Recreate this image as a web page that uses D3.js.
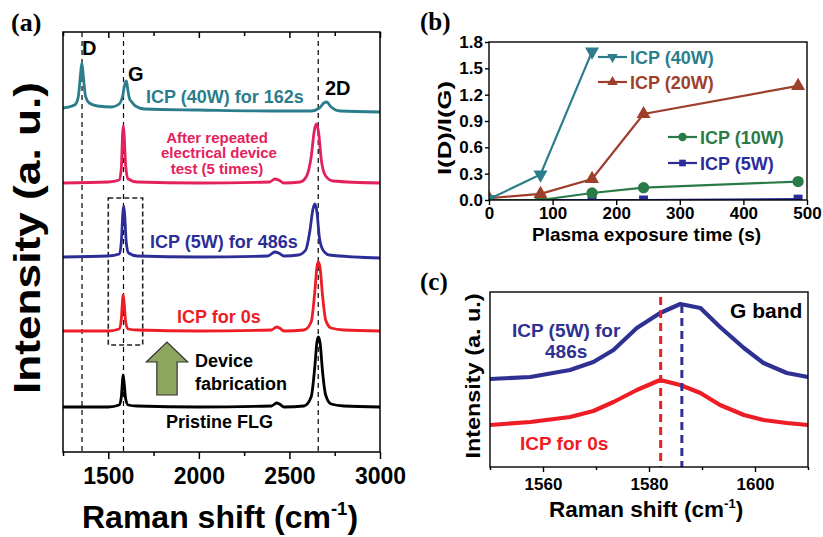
<!DOCTYPE html>
<html>
<head>
<meta charset="utf-8">
<script src="https://cdn.jsdelivr.net/npm/d3@7"></script>
<style>
  body { margin: 0; background: #fff; }
  text { font-family: "Liberation Sans", Arial, sans-serif; font-weight: bold; }
</style>
</head>
<body>
<div id="chart"></div>
<script>
// ---- (a) Raman spectra, [shift (cm-1), intensity (a.u., offset)]
const spec40W = [[1250,344],[1300,346],[1320,348],[1335,356],[1346,376],[1354,389],[1362,376],[1374,356],[1395,349],[1440,346],[1520,345],[1560,348],[1578,355],[1592,368],[1600,371],[1608,362],[1618,353],[1630,350],[1650,346],[1700,343],[2000,342],[2400,341],[2620,341],[2665,344],[2690,349],[2705,350],[2730,345],[2780,341],[3000,340]];
const specRepeated = [[1250,269],[1500,270],[1560,272],[1572,284],[1579,318],[1583,326],[1588,316],[1596,286],[1610,273],[1660,270],[2000,269],[2390,270],[2420,273],[2440,272],[2470,269],[2560,270],[2595,276],[2620,295],[2638,322],[2650,328],[2662,318],[2676,292],[2700,276],[2740,271],[3000,269]];
const spec5W = [[1250,195],[1500,196],[1560,198],[1572,210],[1580,238],[1585,246],[1591,236],[1599,210],[1612,199],[1660,196],[2000,195],[2380,196],[2420,200],[2440,199],[2470,196],[2550,197],[2590,202],[2612,220],[2630,243],[2640,248],[2652,240],[2665,215],[2685,202],[2720,197],[3000,194]];
const spec0s = [[1250,121],[1500,121],[1560,123],[1572,133],[1578,150],[1582,157],[1588,148],[1596,130],[1610,123],[1660,122],[2000,121],[2400,122],[2430,125],[2445,124],[2470,121],[2580,122],[2620,130],[2640,160],[2652,185],[2660,190],[2670,183],[2682,158],[2700,132],[2730,124],[2800,122],[3000,121]];
const specPristine = [[1250,45],[1500,45],[1560,47],[1572,55],[1578,70],[1582,77],[1588,68],[1596,53],[1610,47],[1660,46],[2000,45],[2400,46],[2430,49],[2445,48],[2470,45],[2580,46],[2620,55],[2640,85],[2652,110],[2660,115],[2670,108],[2682,82],[2700,57],[2730,48],[2800,46],[3000,45]];
const bandPos = [["D",1355],["G",1584],["2D",2659]];
const xTicksA = [1500,2000,2500,3000];
const xMinorA = [1250,1750,2250,2750];

// ---- (b) I(D)/I(G) vs plasma exposure time
const timeS = [0,81,162,243,486];
const ratio40W = [0.01,0.29,1.69];
const ratio20W = [0.02,0.07,0.24,0.98,1.30];
const ratio10W = [0.00,0.00,0.08,0.14,0.21];
const ratio5W = [0.00,0.00,0.00,0.00,0.01];

// ---- (c) G band zoom
const gShift = [1550,1557.6,1565.1,1569.5,1573.3,1577.7,1582.1,1585.9,1589.7,1593.4,1597.9,1601.6,1606.0,1610];
const g5W = [88,90,97,105,117,139,154,163,159,140,119,104,94,90];
const g0s = [42,45,50,56,65,77,87,82,74,62,52,47,44,42];
const gPeak0s = 1582.2, gPeak5W = 1586.2;

const svg = d3.select("#chart").append("svg")
  .attr("width", 823).attr("height", 537)
  .style("background", "#fff");

function supTitle(g, x, y, size, pre, post) {
  const t = g.append("text").attr("x", x).attr("y", y).attr("font-size", size);
  t.append("tspan").text(pre);
  t.append("tspan").attr("dy", -size * 0.42).attr("font-size", size * 0.58).text("-1");
  t.append("tspan").attr("dy", size * 0.42).text(post);
  return t;
}

function rotTitle(x, y, size, len, str) {
  svg.append("text")
    .attr("transform", `translate(${x},${y}) rotate(-90)`)
    .attr("text-anchor", "middle")
    .attr("font-size", size)
    .attr("textLength", len).attr("lengthAdjust", "spacingAndGlyphs")
    .text(str);
}

function label(str, x, y, size, color, weight, anchor) {
  return svg.append("text").attr("x", x).attr("y", y)
    .attr("font-size", size).attr("fill", color || "#000")
    .attr("font-weight", weight || "bold")
    .attr("text-anchor", anchor || "start").text(str);
}

// ================= panel (a)
const xA = d3.scaleLinear().domain([1250, 3000]).range([63, 380]);
const yA = d3.scaleLinear().domain([0, 420]).range([452, 32]);
const gA = svg.append("g");

// band guide lines
gA.selectAll(".band").data(bandPos).join("line")
  .attr("x1", d => xA(d[1])).attr("x2", d => xA(d[1]))
  .attr("y1", yA(420)).attr("y2", yA(0))
  .attr("stroke", "#000").attr("stroke-width", 1.2).attr("stroke-dasharray", "5,4");

// dashed box around G peaks
gA.append("rect")
  .attr("x", xA(1500)).attr("y", yA(254))
  .attr("width", xA(1690) - xA(1500)).attr("height", yA(107) - yA(254))
  .attr("fill", "none").attr("stroke", "#222").attr("stroke-width", 1.6).attr("stroke-dasharray", "5,3");

const lineA = d3.line().x(d => xA(d[0])).y(d => yA(d[1])).curve(d3.curveMonotoneX);
const specs = [
  [spec40W, "#2b7d8b"],
  [specRepeated, "#e3215c"],
  [spec5W, "#2d2d98"],
  [spec0s, "#ee1c24"],
  [specPristine, "#000"]
];
gA.selectAll(".spec").data(specs).join("path")
  .attr("d", d => lineA(d[0]))
  .attr("fill", "none").attr("stroke", d => d[1]).attr("stroke-width", 2.8)
  .attr("stroke-linejoin", "round");

// frame and axes
gA.append("rect").attr("x", 63).attr("y", 32).attr("width", 317).attr("height", 420)
  .attr("fill", "none").attr("stroke", "#000").attr("stroke-width", 1.5);
const axA = gA.append("g").attr("transform", "translate(0,452)")
  .call(d3.axisBottom(xA).tickValues(xTicksA).tickSize(7).tickPadding(9).tickFormat(d3.format("d")));
axA.select(".domain").remove();
axA.selectAll("line").attr("stroke-width", 1.5);
axA.selectAll("text").attr("font-size", 23).attr("font-family", "Liberation Sans, Arial").attr("font-weight", "bold").attr("fill", "#000");
const axAm = gA.append("g").attr("transform", "translate(0,452)")
  .call(d3.axisBottom(xA).tickValues(xMinorA).tickSize(4).tickFormat(""));
axAm.select(".domain").remove();
axAm.selectAll("line").attr("stroke-width", 1.5);
const axAt = gA.append("g").attr("transform", "translate(0,32)")
  .call(d3.axisTop(xA).tickValues(xTicksA.concat(xMinorA)).tickSize(-6).tickFormat(""));
axAt.select(".domain").remove();
axAt.selectAll("line").attr("stroke-width", 1.5);
axAt.selectAll(".tick").filter(d => xMinorA.includes(d)).select("line").attr("y2", 4);

// growth arrow (device fabrication)
const arrow = [[1768,57],[1768,90],[1710,90],[1824,110],[1938,90],[1880,90],[1880,57]];
gA.append("polygon")
  .attr("points", arrow.map(p => [xA(p[0]), yA(p[1])].join(",")).join(" "))
  .attr("fill", "#8ca660").attr("stroke", "#333").attr("stroke-width", 1.2);

// annotations
label("D", 82, 55, 20);
label("G", 128, 81, 20);
label("2D", 325, 95, 20);
label("ICP (40W) for 162s", 146, 103, 18, "#2b7d8b");
label("After repeated", 217, 142.5, 15, "#e3215c", "bold", "middle");
label("electrical device", 219, 158, 15, "#e3215c", "bold", "middle");
label("test (5 times)", 217, 173.5, 15, "#e3215c", "bold", "middle");
label("ICP (5W) for 486s", 150, 248, 18, "#2d2d98");
label("ICP for 0s", 177, 323, 18, "#ee1c24");
label("Device", 195, 367, 18);
label("fabrication", 195, 390, 18);
label("Pristine FLG", 166, 428, 18);

supTitle(svg, 82, 528, 32, "Raman shift (cm", ")");
rotTitle(40, 238, 37, 312, "Intensity (a. u.)");
svg.append("text").attr("x", 11).attr("y", 31).attr("font-size", 26)
  .style("font-family", "Liberation Serif, Times New Roman, serif").text("(a)");

// ================= panel (b)
const xB = d3.scaleLinear().domain([0, 500]).range([489, 807]);
const yB = d3.scaleLinear().domain([0, 1.8]).range([200, 42]);
const gB = svg.append("g");
gB.append("clipPath").attr("id", "clipB").append("rect")
  .attr("x", 489).attr("y", 30).attr("width", 318).attr("height", 170);

const seriesB = [
  { name: "ICP (5W)",  vals: ratio5W,  color: "#2b2b9c", sym: d3.symbolSquare,   rot: 0,   size: 80 },
  { name: "ICP (10W)", vals: ratio10W, color: "#2a7a48", sym: d3.symbolCircle,   rot: 0,   size: 100 },
  { name: "ICP (20W)", vals: ratio20W, color: "#9e3f2c", sym: d3.symbolTriangle, rot: 0,   size: 85 },
  { name: "ICP (40W)", vals: ratio40W, color: "#2b7d8b", sym: d3.symbolTriangle, rot: 180, size: 85 }
];
const lineB = d3.line().x(d => xB(d[0])).y(d => yB(d[1]));
const plotB = gB.append("g").attr("clip-path", "url(#clipB)");
seriesB.forEach(s => {
  const pts = s.vals.map((v, i) => [timeS[i], v]);
  plotB.append("path").attr("d", lineB(pts))
    .attr("fill", "none").attr("stroke", s.color).attr("stroke-width", 2.2);
  plotB.selectAll(null).data(pts).join("path")
    .attr("d", d3.symbol(s.sym, s.size))
    .attr("transform", d => `translate(${xB(d[0])},${yB(d[1])}) rotate(${s.rot})`)
    .attr("fill", s.color);
});

gB.append("rect").attr("x", 489).attr("y", 42).attr("width", 318).attr("height", 158)
  .attr("fill", "none").attr("stroke", "#000").attr("stroke-width", 1.4);
const axBx = gB.append("g").attr("transform", "translate(0,200)")
  .call(d3.axisBottom(xB).tickValues([0,100,200,300,400,500]).tickSize(5).tickPadding(2));
const axBy = gB.append("g").attr("transform", "translate(489,0)")
  .call(d3.axisLeft(yB).tickValues([0,0.3,0.6,0.9,1.2,1.5,1.8]).tickSize(4).tickPadding(2).tickFormat(d3.format(".1f")));
[axBx, axBy].forEach(ax => {
  ax.select(".domain").remove();
  ax.selectAll("line").attr("stroke-width", 1.4);
  ax.selectAll("text").attr("font-size", 17).attr("font-family", "Liberation Sans, Arial").attr("font-weight", "bold").attr("fill", "#000");
});

// legend
const legendB = [
  { s: seriesB[3], x: 598, y: 57, tx: 630 },
  { s: seriesB[2], x: 598, y: 82, tx: 630 },
  { s: seriesB[1], x: 668, y: 137, tx: 700 },
  { s: seriesB[0], x: 668, y: 163, tx: 700 }
];
legendB.forEach(l => {
  gB.append("line").attr("x1", l.x).attr("x2", l.x + 29).attr("y1", l.y).attr("y2", l.y)
    .attr("stroke", l.s.color).attr("stroke-width", 2.2);
  gB.append("path").attr("d", d3.symbol(l.s.sym, l.s.size * 0.55))
    .attr("transform", `translate(${l.x + 14.5},${l.y}) rotate(${l.s.rot})`)
    .attr("fill", l.s.color);
  label(l.s.name, l.tx, l.y + 6.5, 18, l.s.color);
});

label("Plasma exposure time (s)", 532, 241, 19);
rotTitle(451, 128, 18, 94, "I(D)/I(G)");
svg.append("text").attr("x", 420).attr("y", 30).attr("font-size", 25)
  .style("font-family", "Liberation Serif, Times New Roman, serif").text("(b)");

// ================= panel (c)
const xC = d3.scaleLinear().domain([1550, 1610]).range([490, 808]);
const yC = d3.scaleLinear().domain([0, 175]).range([467, 292]);
const gC = svg.append("g");
const lineC = d3.line().x(d => xC(d[0])).y(d => yC(d[1]));
[[g5W, "#2e3192"], [g0s, "#ee1c24"]].forEach(s => {
  gC.append("path").attr("d", lineC(s[0].map((v, i) => [gShift[i], v])))
    .attr("fill", "none").attr("stroke", s[1]).attr("stroke-width", 4.2).attr("stroke-linejoin", "round");
});
[[gPeak0s, 170, "#ee1c24"], [gPeak5W, 162, "#2e3192"]].forEach(p => {
  gC.append("line").attr("x1", xC(p[0])).attr("x2", xC(p[0]))
    .attr("y1", yC(p[1])).attr("y2", yC(0))
    .attr("stroke", p[2]).attr("stroke-width", 3).attr("stroke-dasharray", "8,5");
});
gC.append("rect").attr("x", 490).attr("y", 292).attr("width", 318).attr("height", 175)
  .attr("fill", "none").attr("stroke", "#000").attr("stroke-width", 1.4);
const axC = gC.append("g").attr("transform", "translate(0,467)")
  .call(d3.axisBottom(xC).tickValues([1560,1580,1600]).tickSize(5).tickPadding(6).tickFormat(d3.format("d")));
axC.select(".domain").remove();
axC.selectAll("line").attr("stroke-width", 1.4);
axC.selectAll("text").attr("font-size", 17).attr("font-family", "Liberation Sans, Arial").attr("font-weight", "bold").attr("fill", "#000");
const axCm = gC.append("g").attr("transform", "translate(0,467)")
  .call(d3.axisBottom(xC).tickValues([1550,1570,1590,1610]).tickSize(3).tickFormat(""));
axCm.select(".domain").remove();
axCm.selectAll("line").attr("stroke-width", 1.4);

label("G band", 730, 318, 21);
label("ICP (5W) for", 512, 337, 19, "#2e3192", "normal");
label("486s", 545, 358, 19, "#2e3192", "normal");
label("ICP for 0s", 520, 450, 19, "#ee1c24", "normal");
supTitle(svg, 549, 517, 22.5, "Raman shift (cm", ")");
rotTitle(480, 376, 21, 165, "Intensity (a. u.)");
svg.append("text").attr("x", 420).attr("y", 290).attr("font-size", 25)
  .style("font-family", "Liberation Serif, Times New Roman, serif").text("(c)");
</script>
</body>
</html>
